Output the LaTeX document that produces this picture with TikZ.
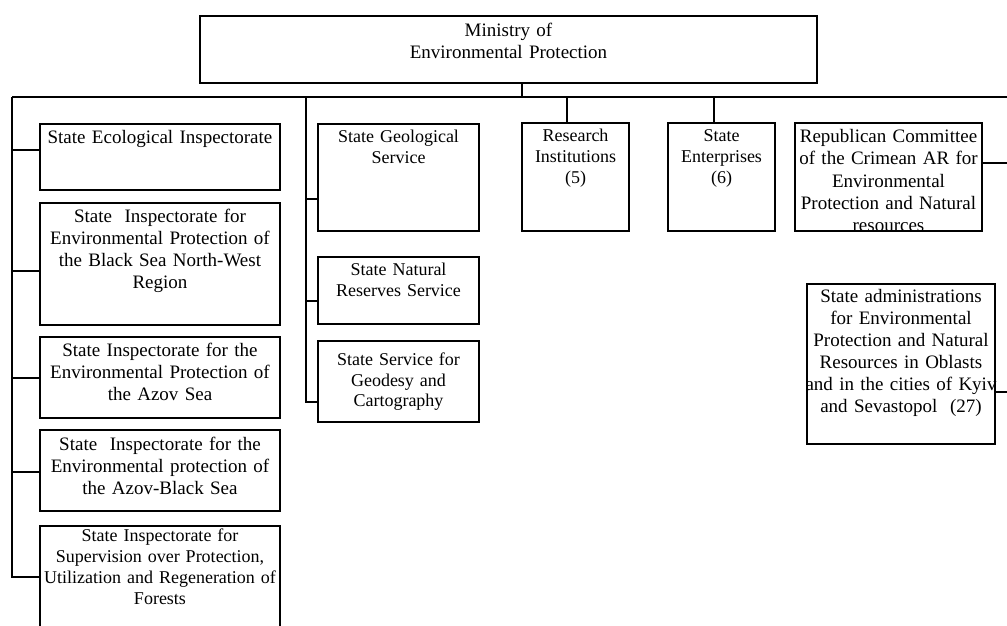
\documentclass[tikz,border=0pt]{standalone}
\usepackage{fontspec}
\setmainfont{Liberation Serif}
\tikzset{
  orgbox/.style={draw, rectangle, line width=1.2pt, inner sep=0pt},
  link/.style={line width=1.2pt},
  txtbig/.style={anchor=base, align=center, inner sep=0pt, text width=280pt, font=\fontsize{19}{22}\selectfont},
  txtsmall/.style={anchor=base, align=center, inner sep=0pt, text width=280pt, font=\fontsize{18}{20.7}\selectfont},
}
\begin{document}
\begin{tikzpicture}[x=1pt,y=-1pt]
\useasboundingbox (0,0) rectangle (1007,626);
\clip (0,0) rectangle (1007,626);

% boxes
\node[orgbox, minimum width=617pt, minimum height=67pt] (min) at (508.5,49.5) {};
\node[orgbox, minimum width=240pt, minimum height=66pt] (eco) at (160,157) {};
\node[orgbox, minimum width=240pt, minimum height=122pt] (bsnw) at (160,264) {};
\node[orgbox, minimum width=240pt, minimum height=81pt] (azov) at (160,377.5) {};
\node[orgbox, minimum width=240pt, minimum height=81pt] (azbl) at (160,470.5) {};
\node[orgbox, minimum width=240pt, minimum height=114pt] (forest) at (160,583) {};
\node[orgbox, minimum width=161pt, minimum height=107pt] (geo) at (398.5,177.5) {};
\node[orgbox, minimum width=161pt, minimum height=67pt] (nat) at (398.5,290.5) {};
\node[orgbox, minimum width=161pt, minimum height=81pt] (gdc) at (398.5,381.5) {};
\node[orgbox, minimum width=107pt, minimum height=108pt] (res) at (575.5,177) {};
\node[orgbox, minimum width=107pt, minimum height=108pt] (ent) at (721.5,177) {};
\node[orgbox, minimum width=187pt, minimum height=108pt] (rep) at (888.5,177) {};
\node[orgbox, minimum width=188pt, minimum height=160pt] (adm) at (901,364) {};

% texts
\node[txtbig] (tmin) at ([yshift=-21pt]min.north) {Ministry of\\Environmental Protection};
\node[txtbig] (teco) at ([yshift=-20pt]eco.north) {State Ecological Inspectorate};
\node[txtbig] (tbsnw) at ([yshift=-20pt]bsnw.north) {State\ \ Inspectorate for\\Environmental Protection of\\the Black Sea North-West\\Region};
\node[txtbig] (tazov) at ([yshift=-20pt]azov.north) {State Inspectorate for the\\Environmental Protection of\\the Azov Sea};
\node[txtbig] (tazbl) at ([yshift=-21pt]azbl.north) {State\ \ Inspectorate for the\\Environmental protection of\\the Azov-Black Sea};
\node[txtsmall] (tforest) at ([yshift=-16.5pt]forest.north) {State Inspectorate for\\Supervision over Protection,\\Utilization and Regeneration of\\Forests};
\node[txtsmall] (tgeo) at ([yshift=-19pt]geo.north) {State Geological\\Service};
\node[txtsmall] (tnat) at ([yshift=-19pt]nat.north) {State Natural\\Reserves Service};
\node[txtsmall] (tgdc) at ([yshift=-25pt]gdc.north) {State Service for\\Geodesy and\\Cartography};
\node[txtsmall, font=\fontsize{18}{21}\selectfont] (tres) at ([yshift=-19pt]res.north) {Research\\Institutions\\(5)};
\node[txtsmall, font=\fontsize{18}{21}\selectfont] (tent) at ([yshift=-19pt]ent.north) {State\\Enterprises\\(6)};
\begin{scope}
\clip (rep.north west) rectangle ([yshift=0.6pt]rep.south east);
\node[txtbig, font=\fontsize{19}{22.3}\selectfont] (trep) at ([yshift=-20pt]rep.north) {Republican Committee\\of the Crimean AR for\\Environmental\\Protection and Natural\\resources};
\end{scope}
\node[txtbig] (tadm) at ([yshift=-19pt]adm.north) {State administrations\\for Environmental\\Protection and Natural\\Resources in Oblasts\\and in the cities of Kyiv\\and Sevastopol\ \ (27)};

% bus and connectors
\coordinate (busL) at (12,97);
\coordinate (busM) at (306,97);
\coordinate (busR) at (1009,97);
\coordinate (mb) at (522,97);
\coordinate (rb) at (567,97);
\coordinate (eb) at (714,97);
\draw[link] (busL) -- (busR);
\draw[link] (mb) -- (mb |- min.south);
\draw[link] (rb) -- (rb |- res.north);
\draw[link] (eb) -- (eb |- ent.north);

\draw[link] (busL) |- ([yshift=7pt]eco.west);
\draw[link] (busL) |- ([yshift=-7pt]bsnw.west);
\draw[link] (busL) |- ([yshift=-0.5pt]azov.west);
\draw[link] (busL) |- ([yshift=-1.5pt]azbl.west);
\draw[link] (busL) |- ([yshift=6pt]forest.west);

\draw[link] (busM) |- ([yshift=-21.5pt]geo.west);
\draw[link] (busM) |- ([yshift=-10.5pt]nat.west);
\draw[link] (busM) |- ([yshift=-20.5pt]gdc.west);

\draw[link] ([yshift=14pt]rep.east) -| (busR);
\draw[link] ([yshift=-28pt]adm.east) -| (busR);
\end{tikzpicture}
\end{document}
